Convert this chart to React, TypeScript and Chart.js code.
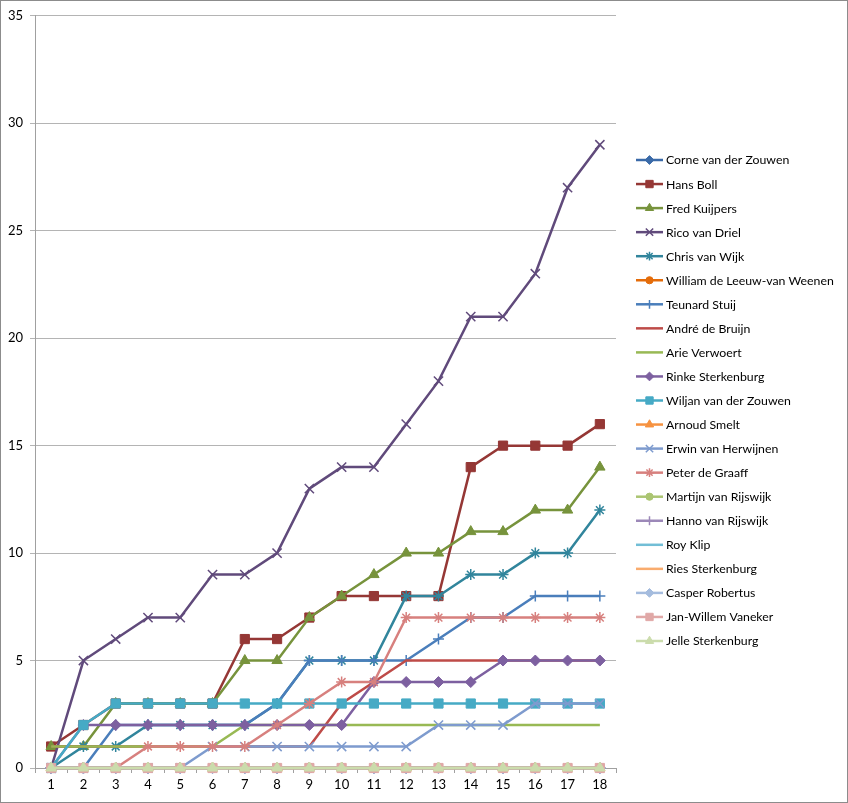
import React, { useEffect, useRef } from 'react';
import { Chart, registerables } from 'chart.js';
import { drawPoint } from 'chart.js/helpers';

Chart.register(...registerables);

// rounds 1..18
const rounds = ['1', '2', '3', '4', '5', '6', '7', '8', '9', '10', '11', '12', '13', '14', '15', '16', '17', '18'];

const corne = [0, 0, 0, 0, 0, 0, 0, 0, 0, 0, 0, 0, 0, 0, 0, 0, 0, 0];
const hansBoll = [1, 2, 3, 3, 3, 3, 6, 6, 7, 8, 8, 8, 8, 14, 15, 15, 15, 16];
const fredKuijpers = [1, 1, 3, 3, 3, 3, 5, 5, 7, 8, 9, 10, 10, 11, 11, 12, 12, 14];
const ricoVanDriel = [0, 5, 6, 7, 7, 9, 9, 10, 13, 14, 14, 16, 18, 21, 21, 23, 27, 29];
const chrisVanWijk = [0, 1, 1, 2, 2, 2, 2, 3, 5, 5, 5, 8, 8, 9, 9, 10, 10, 12];
const william = [0, 0, 0, 0, 0, 0, 0, 0, 0, 0, 0, 0, 0, 0, 0, 0, 0, 0];
const teunardStuij = [0, 0, 2, 2, 2, 2, 2, 3, 5, 5, 5, 5, 6, 7, 7, 8, 8, 8];
const andreDeBruijn = [1, 1, 1, 1, 1, 1, 1, 1, 1, 3, 4, 5, 5, 5, 5, 5, 5, 5];
const arieVerwoert = [1, 1, 1, 1, 1, 1, 2, 2, 2, 2, 2, 2, 2, 2, 2, 2, 2, 2];
const rinkeSterkenburg = [0, 2, 2, 2, 2, 2, 2, 2, 2, 2, 4, 4, 4, 4, 5, 5, 5, 5];
const wiljan = [0, 2, 3, 3, 3, 3, 3, 3, 3, 3, 3, 3, 3, 3, 3, 3, 3, 3];
const arnoudSmelt = [0, 0, 0, 0, 0, 0, 0, 0, 0, 0, 0, 0, 0, 0, 0, 0, 0, 0];
const erwin = [0, 0, 0, 0, 0, 1, 1, 1, 1, 1, 1, 1, 2, 2, 2, 3, 3, 3];
const peterDeGraaff = [0, 0, 0, 1, 1, 1, 1, 2, 3, 4, 4, 7, 7, 7, 7, 7, 7, 7];
const martijn = [0, 0, 0, 0, 0, 0, 0, 0, 0, 0, 0, 0, 0, 0, 0, 0, 0, 0];
const hanno = [0, 0, 0, 0, 0, 0, 0, 0, 0, 0, 0, 0, 0, 0, 0, 0, 0, 0];
const royKlip = [0, 0, 0, 0, 0, 0, 0, 0, 0, 0, 0, 0, 0, 0, 0, 0, 0, 0];
const riesSterkenburg = [0, 0, 0, 0, 0, 0, 0, 0, 0, 0, 0, 0, 0, 0, 0, 0, 0, 0];
const casperRobertus = [0, 0, 0, 0, 0, 0, 0, 0, 0, 0, 0, 0, 0, 0, 0, 0, 0, 0];
const janWillem = [0, 0, 0, 0, 0, 0, 0, 0, 0, 0, 0, 0, 0, 0, 0, 0, 0, 0];
const jelleSterkenburg = [0, 0, 0, 0, 0, 0, 0, 0, 0, 0, 0, 0, 0, 0, 0, 0, 0, 0];

const names = [
  'Corne van der Zouwen', 'Hans Boll', 'Fred Kuijpers', 'Rico van Driel', 'Chris van Wijk',
  'William de Leeuw-van Weenen', 'Teunard Stuij', 'André de Bruijn', 'Arie Verwoert',
  'Rinke Sterkenburg', 'Wiljan van der Zouwen', 'Arnoud Smelt', 'Erwin van Herwijnen',
  'Peter de Graaff', 'Martijn van Rijswijk', 'Hanno van Rijswijk', 'Roy Klip',
  'Ries Sterkenburg', 'Casper Robertus', 'Jan-Willem Vaneker', 'Jelle Sterkenburg',
];

const seriesValues = [
  corne, hansBoll, fredKuijpers, ricoVanDriel, chrisVanWijk, william, teunardStuij,
  andreDeBruijn, arieVerwoert, rinkeSterkenburg, wiljan, arnoudSmelt, erwin, peterDeGraaff,
  martijn, hanno, royKlip, riesSterkenburg, casperRobertus, janWillem, jelleSterkenburg,
];

const colors = [
  '#3A6AA8', '#953735', '#77933C', '#604A7B', '#31859C', '#E46C0A',
  '#4A7EBB', '#BE4B48', '#98B954', '#7D60A0', '#46AAC5', '#F69240',
  '#7E9BCE', '#D7807E', '#ABC572', '#9C88B8', '#72BED6', '#F9AC6E',
  '#A5BCDE', '#E0A8A7', '#CBDCAC',
];

// excel marker cycle: diamond, square, triangle, x, asterisk, circle, plus, none, none
const markerCycle = ['rectRot', 'rect', 'triangle', 'crossRot', 'star', 'circle', 'cross', 'none', 'none'];
const markerSize: Record<string, number> = {
  rectRot: 5.5, rect: 6.5, triangle: 6, crossRot: 6.5, star: 5.5, circle: 4.5, cross: 5.5, none: 0,
};

const FONT = 'Lato, "Open Sans", sans-serif';

const sideLegend = {
  id: 'sideLegend',
  afterDraw(chart: any) {
    const ctx = chart.ctx;
    ctx.save();
    chart.data.datasets.forEach((ds: any, i: number) => {
      const y = 159 + i * 24.05;
      ctx.strokeStyle = ds.borderColor;
      ctx.lineWidth = 2.5;
      ctx.beginPath();
      ctx.moveTo(635, y);
      ctx.lineTo(662, y);
      ctx.stroke();
      if (ds.pointRadius > 0) {
        ctx.fillStyle = ds.pointBackgroundColor;
        ctx.strokeStyle = ds.pointBorderColor;
        ctx.lineWidth = ds.pointBorderWidth;
        drawPoint(ctx, {
          pointStyle: ds.pointStyle,
          radius: ds.pointRadius * 0.8,
          rotation: 0,
          borderWidth: ds.pointBorderWidth,
        } as any, 648.5, y);
      }
      ctx.fillStyle = '#000';
      ctx.font = '12.3px ' + FONT;
      ctx.textBaseline = 'middle';
      ctx.textAlign = 'left';
      ctx.fillText(ds.label, 665, y + 0.5);
    });
    ctx.restore();
  },
};

export default function App() {
  const canvasRef = useRef<HTMLCanvasElement>(null);
  const chartInstance = useRef<Chart | null>(null);

  useEffect(() => {
    if (!canvasRef.current) return;
    const ctx = canvasRef.current.getContext('2d');
    if (!ctx) return;

    const datasets = names.map((name, i) => {
      const marker = markerCycle[i % markerCycle.length];
      const isLineMarker = marker === 'crossRot' || marker === 'star' || marker === 'cross';
      return {
        label: name,
        data: seriesValues[i],
        borderColor: colors[i],
        backgroundColor: colors[i],
        borderWidth: 2.5,
        tension: 0,
        clip: false as const,
        pointStyle: marker === 'none' ? 'circle' : marker,
        pointRadius: markerSize[marker],
        pointHoverRadius: markerSize[marker],
        pointBackgroundColor: colors[i],
        pointBorderColor: colors[i],
        pointBorderWidth: isLineMarker ? 1.5 : 1,
        order: -i, // later series drawn on top, like Excel
      };
    });

    chartInstance.current = new Chart(ctx, {
      type: 'line',
      data: { labels: rounds, datasets },
      plugins: [sideLegend],
      options: {
        animation: false,
        responsive: true,
        maintainAspectRatio: false,
        layout: { padding: { left: 0, right: 231, top: 14, bottom: 0 } },
        plugins: {
          legend: { display: false },
          tooltip: { enabled: false },
        },
        scales: {
          x: {
            offset: true,
            afterFit: (scale: any) => { scale.height = 34; },
            grid: {
              offset: true,
              drawOnChartArea: false,
              drawTicks: true,
              tickLength: 5,
              color: '#A0A0A0',
            },
            border: { color: '#A0A0A0', width: 1 },
            ticks: {
              color: '#000',
              padding: 4,
              font: { family: FONT, size: 13 },
              maxRotation: 0,
              autoSkip: false,
            },
          },
          y: {
            min: 0,
            max: 35,
            afterFit: (scale: any) => { scale.width = 34; },
            grid: {
              color: '#B4B4B4',
              tickLength: 5,
            },
            border: { color: '#A0A0A0', width: 1 },
            ticks: {
              stepSize: 5,
              color: '#000',
              padding: 7,
              font: { family: FONT, size: 13 },
            },
          },
        },
      },
    });

    return () => {
      if (chartInstance.current) {
        chartInstance.current.destroy();
        chartInstance.current = null;
      }
    };
  }, []);

  return (
    <div
      style={{
        position: 'fixed',
        left: 0,
        top: 0,
        width: '848px',
        height: '803px',
        border: '1px solid #8C8C8C',
        boxSizing: 'border-box',
        background: '#fff',
      }}
    >
      <canvas ref={canvasRef}></canvas>
    </div>
  );
}
